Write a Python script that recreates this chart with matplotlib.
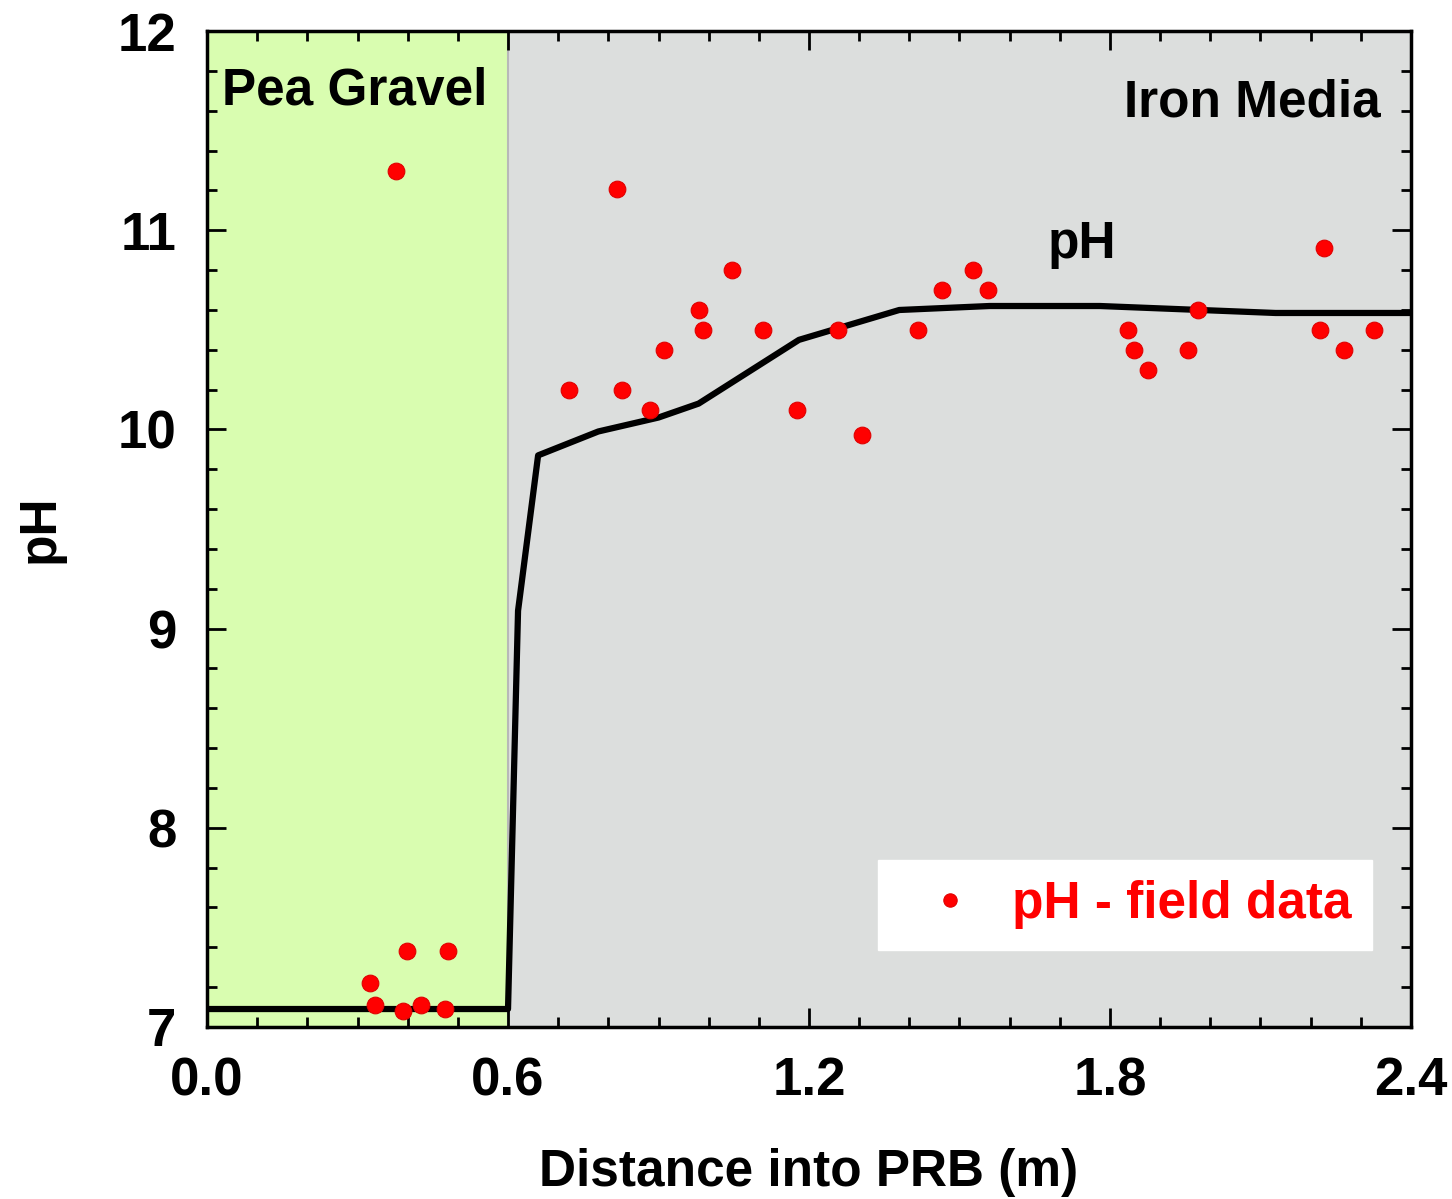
import numpy as np
import matplotlib.pyplot as plt
from matplotlib.ticker import MultipleLocator

plt.rcParams['font.family'] = ['Liberation Sans', 'DejaVu Sans']
plt.rcParams['font.weight'] = 'bold'

# model pH profile (line)
line_x = [0.0, 0.6, 0.62, 0.66, 0.78, 0.9, 0.98, 1.18, 1.38, 1.56, 1.78, 2.13, 2.4]
line_y = [7.09, 7.09, 9.09, 9.87, 9.99, 10.06, 10.13, 10.45, 10.60, 10.62, 10.62, 10.585, 10.585]

# field data (points)
field_x = [0.377, 0.325, 0.335, 0.391, 0.399, 0.427, 0.474, 0.480,
           0.722, 0.817, 0.827, 0.883, 0.911, 0.981, 0.989, 1.046, 1.108,
           1.176, 1.258, 1.306, 1.417, 1.465, 1.527, 1.557, 1.836, 1.848,
           1.876, 1.955, 1.975, 2.226, 2.218, 2.266, 2.326]
field_y = [11.30, 7.22, 7.11, 7.08, 7.38, 7.11, 7.09, 7.38,
           10.20, 11.21, 10.20, 10.10, 10.40, 10.60, 10.50, 10.80, 10.50,
           10.10, 10.50, 9.97, 10.50, 10.70, 10.80, 10.70, 10.50, 10.40,
           10.30, 10.40, 10.60, 10.91, 10.50, 10.40, 10.50]

fig = plt.figure(figsize=(14.52, 11.99), dpi=100)
ax = fig.add_axes([0.1426, 0.1435, 0.8291, 0.8305])

# zones
ax.axvspan(0.0, 0.6, color='#d9fdb0', zorder=0)
ax.axvspan(0.6, 2.4, facecolor='#dcdedd', edgecolor='#b8b8b8', lw=1.5, zorder=0)

ax.plot(line_x, line_y, color='black', lw=4.5, zorder=2)
ax.plot(field_x, field_y, 'o', color='#ff0000', markersize=12, markeredgecolor='#e00000',
        markeredgewidth=0.8, zorder=3, label='pH - field data')

ax.set_xlim(0, 2.4)
ax.set_ylim(7, 12)
ax.xaxis.set_major_locator(MultipleLocator(0.6))
ax.xaxis.set_minor_locator(MultipleLocator(0.1))
ax.yaxis.set_major_locator(MultipleLocator(1))
ax.yaxis.set_minor_locator(MultipleLocator(0.2))
ax.set_xticks([0.0, 0.6, 1.2, 1.8, 2.4])
ax.set_xticklabels(['0.0', '0.6', '1.2', '1.8', '2.4'])
ax.tick_params(which='both', direction='in', top=True, right=True, width=2)
ax.tick_params(which='major', length=14, labelsize=38)
ax.tick_params(which='minor', length=7)
ax.tick_params(axis='x', which='major', pad=21)
ax.tick_params(axis='y', which='major', pad=22)
for s in ax.spines.values():
    s.set_linewidth(2.5)

ax.set_xlabel('Distance into PRB (m)', fontsize=37, fontweight='bold', labelpad=30)
ax.set_ylabel('pH', fontsize=37, fontweight='bold', labelpad=38)

ax.text(0.03, 11.7, 'Pea Gravel', fontsize=37, fontweight='bold', va='center', ha='left')
ax.text(2.34, 11.64, 'Iron Media', fontsize=37, fontweight='bold', va='center', ha='right')
ax.text(1.745, 10.93, 'pH', fontsize=37, fontweight='bold', va='center', ha='center')

leg = ax.legend(loc='lower right', bbox_to_anchor=(0.9676, 0.0773), borderaxespad=0,
                fontsize=37, frameon=True, fancybox=False, framealpha=1, edgecolor='white',
                handletextpad=0.2, borderpad=0.4, handlelength=2.0, markerscale=0.8)
for t in leg.get_texts():
    t.set_color('#ff0000')

fig.savefig('out.png', dpi=100)
